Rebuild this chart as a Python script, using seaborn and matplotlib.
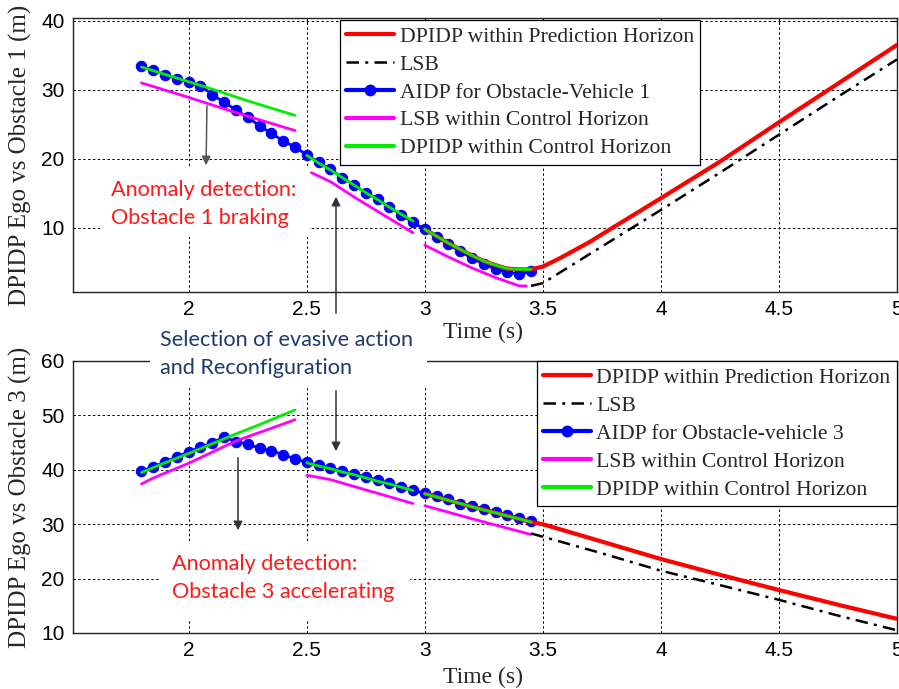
import numpy as np
import pandas as pd
import matplotlib
matplotlib.use("Agg")
import matplotlib.pyplot as plt
import seaborn as sns
from matplotlib.lines import Line2D
from matplotlib.patches import Rectangle, FancyArrowPatch

# ---------------- data ----------------
aidp_t = [round(1.8 + 0.05 * i, 2) for i in range(34)]

# Top panel: Ego vs Obstacle 1
top_aidp = [33.4, 32.8, 32.2, 31.6, 31.1, 30.6, 29.3, 28.2, 27.1, 26.0,
            24.8, 23.7, 22.6, 21.7, 20.6, 19.5, 18.5, 17.3, 16.2, 15.1,
            14.2, 13.0, 11.9, 10.8, 9.8, 8.7, 7.6, 6.6, 5.6, 4.8,
            4.0, 3.6, 3.3, 3.7]
top_green_t = [[1.8, 1.95, 2.1, 2.25, 2.45],
               [2.5, 2.55, 2.6, 2.65, 2.7, 2.75, 2.8, 2.85, 2.9, 2.95],
               [3.0, 3.05, 3.1, 3.15, 3.2, 3.25, 3.3, 3.35, 3.4, 3.45]]
top_green_v = [[33.3, 31.7, 30.1, 28.4, 26.3],
               [20.5, 19.4, 18.4, 17.3, 16.2, 15.1, 14.1, 13.0, 12.0, 11.0],
               [9.8, 8.8, 7.8, 6.9, 6.0, 5.2, 4.6, 4.1, 4.0, 4.0]]
top_mag_t = [[1.8, 2.0, 2.2, 2.45],
             [2.52, 2.6, 2.7, 2.8, 2.95],
             [3.0, 3.1, 3.2, 3.3, 3.4, 3.43]]
top_mag_v = [[31.0, 28.9, 26.7, 24.1],
             [18.0, 16.7, 14.5, 12.4, 9.3],
             [7.5, 5.8, 4.2, 2.8, 1.6, 1.6]]
top_red_t = [3.0, 3.05, 3.1, 3.15, 3.2, 3.25, 3.3, 3.35, 3.4, 3.45,
             3.5, 3.58, 3.7, 3.78, 4.0, 4.25, 4.5, 4.75, 5.0]
top_red_v = [9.8, 8.8, 7.8, 6.9, 6.0, 5.2, 4.6, 4.1, 4.0, 4.0,
             4.4, 5.75, 8.0, 9.7, 14.3, 19.6, 25.3, 30.9, 36.5]
top_lsb_t = [3.45, 3.5, 3.66, 4.0, 4.25, 4.5, 4.75, 5.0]
top_lsb_v = [1.6, 2.0, 5.4, 12.6, 18.0, 23.5, 29.0, 34.4]

# Bottom panel: Ego vs Obstacle 3
bot_aidp = [39.7, 40.6, 41.4, 42.4, 43.3, 44.1, 45.0, 46.0, 45.2, 44.7,
            44.0, 43.5, 42.8, 42.0, 41.4, 40.8, 40.3, 39.8, 39.2, 38.7,
            38.1, 37.5, 36.9, 36.2, 35.7, 35.2, 34.6, 33.8, 33.4, 32.8,
            32.2, 31.7, 31.2, 30.5]
bot_green_t = [[1.8, 1.9, 2.0, 2.1, 2.2, 2.3, 2.45],
               [2.5, 2.55, 2.6, 2.65, 2.7, 2.75, 2.8, 2.85, 2.9, 2.95],
               [3.0, 3.05, 3.1, 3.15, 3.2, 3.25, 3.3, 3.35, 3.4, 3.45]]
bot_green_v = [[39.5, 41.3, 43.0, 44.8, 46.6, 48.3, 51.0],
               [41.3, 40.7, 40.2, 39.6, 39.1, 38.5, 37.9, 37.4, 36.8, 36.2],
               [35.6, 35.0, 34.4, 33.8, 33.2, 32.6, 32.1, 31.5, 31.0, 30.4]]
bot_mag_t = [[1.8, 1.85, 2.0, 2.2, 2.45],
             [2.5, 2.6, 2.75, 2.95],
             [3.0, 3.2, 3.45]]
bot_mag_v = [[37.4, 38.5, 41.2, 45.3, 49.2],
             [39.0, 38.2, 36.3, 33.8],
             [33.4, 31.0, 28.1]]
bot_red_t = [3.0, 3.1, 3.2, 3.3, 3.45, 3.5, 3.75, 4.0, 4.25, 4.5, 4.75, 5.0]
bot_red_v = [35.6, 34.4, 33.2, 32.1, 30.4, 30.0, 26.8, 23.6, 20.7, 17.9, 15.2, 12.6]
bot_lsb_t = [3.45, 3.5, 3.75, 4.0, 4.25, 4.5, 4.75, 5.0]
bot_lsb_v = [28.3, 27.7, 24.65, 21.45, 18.8, 16.1, 13.2, 10.5]

x_ticks = [2, 2.5, 3, 3.5, 4, 4.5, 5]
top_yticks = [10, 20, 30, 40]
bot_yticks = [10, 20, 30, 40, 50, 60]

labels_top = ["DPIDP within Prediction Horizon", "LSB",
              "AIDP for Obstacle-Vehicle 1", "LSB within Control Horizon",
              "DPIDP within Control Horizon"]
labels_bot = ["DPIDP within Prediction Horizon", "LSB",
              "AIDP for Obstacle-vehicle 3", "LSB within Control Horizon",
              "DPIDP within Control Horizon"]

# ---------------- style ----------------
sns.set_style("white")
SERIF = ["Liberation Serif", "DejaVu Serif"]
SANS = ["Liberation Sans", "DejaVu Sans"]
NOTE = ["Lato", "DejaVu Sans"]
plt.rcParams["font.family"] = SANS

W, H = 899, 689
fig = plt.figure(figsize=(W / 100, H / 100), dpi=100)


def fx(x):
    return x / W


def fy(y):
    return 1 - y / H


ax_top = fig.add_axes([fx(73), fy(292), (897 - 73) / W, (292 - 18) / H])
ax_bot = fig.add_axes([fx(73), fy(633), (897 - 73) / W, (633 - 361) / H])

RED, BLUE, MAG, GREEN = "#ff0000", "#0000ff", "#ff00ff", "#00ee00"
LSB_DASH = (0, (5, 2.5, 1.2, 2.5))


def seg_frame(ts, vs):
    rows = []
    for k, (t, v) in enumerate(zip(ts, vs)):
        for a, b in zip(t, v):
            rows.append({"t": a, "v": b, "seg": k})
    return pd.DataFrame(rows)


def draw_panel(ax, aidp, green_t, green_v, mag_t, mag_v, red_t, red_v,
               lsb_t, lsb_v, ylim, yticks, ylabel, labels, leg_kw):
    sns.lineplot(x=aidp_t, y=aidp, ax=ax, color=BLUE, lw=2, marker="o",
                 markersize=7.5, markeredgecolor=BLUE, markerfacecolor=BLUE,
                 estimator=None, sort=False, zorder=2)
    sns.lineplot(data=seg_frame(mag_t, mag_v), x="t", y="v", units="seg",
                 estimator=None, sort=False, ax=ax, color=MAG, lw=2, zorder=3)
    sns.lineplot(x=lsb_t, y=lsb_v, ax=ax, color="black", lw=1.8,
                 linestyle=LSB_DASH, estimator=None, sort=False, zorder=3)
    sns.lineplot(x=red_t, y=red_v, ax=ax, color=RED, lw=3, estimator=None,
                 sort=False, zorder=4)
    sns.lineplot(data=seg_frame(green_t, green_v), x="t", y="v", units="seg",
                 estimator=None, sort=False, ax=ax, color=GREEN, lw=2, zorder=5)

    ax.set_xlim(1.51, 5.0)
    ax.set_ylim(*ylim)
    ax.set_xticks(x_ticks)
    ax.set_xticklabels(["%g" % v for v in x_ticks])
    ax.set_yticks(yticks)
    ax.set_yticklabels(["%g" % v for v in yticks])
    ax.grid(True, color="black", linestyle=(0, (2.5, 2.5)), lw=0.7)
    ax.set_axisbelow(True)
    for s in ax.spines.values():
        s.set_visible(True)
        s.set_color("#222222")
        s.set_linewidth(1.0)
    ax.tick_params(direction="in", length=4, width=0.8, top=True, right=True,
                   labelsize=15, pad=6, colors="black")
    for lab in ax.get_xticklabels() + ax.get_yticklabels():
        lab.set_family(SANS)
    ax.set_xlabel("Time (s)", fontsize=17, family=SERIF)
    ax.set_ylabel(ylabel, fontsize=18, family=SERIF)
    ax.yaxis.set_label_coords(-0.05, 0.5)

    handles = [Line2D([], [], color=RED, lw=3),
               Line2D([], [], color="black", lw=1.8, linestyle=LSB_DASH),
               Line2D([], [], color=BLUE, lw=3, marker="o", markersize=7.5),
               Line2D([], [], color=MAG, lw=3),
               Line2D([], [], color=GREEN, lw=3)]
    leg = ax.legend(handles, labels, prop={"family": SERIF, "size": 15.6},
                    frameon=True, fancybox=False, framealpha=1,
                    edgecolor="black", borderaxespad=0, handlelength=2.2,
                    handletextpad=0.25, labelspacing=0.36, borderpad=0.3,
                    **leg_kw)
    leg.get_frame().set_linewidth(0.9)
    leg.set_zorder(10)


draw_panel(ax_top, top_aidp, top_green_t, top_green_v, top_mag_t, top_mag_v,
           top_red_t, top_red_v, top_lsb_t, top_lsb_v, (0.72, 40.4),
           top_yticks, "DPIDP Ego vs Obstacle 1 (m)", labels_top,
           dict(loc="upper left", bbox_to_anchor=(0.324, 0.993)))
draw_panel(ax_bot, bot_aidp, bot_green_t, bot_green_v, bot_mag_t, bot_mag_v,
           bot_red_t, bot_red_v, bot_lsb_t, bot_lsb_v, (10, 60),
           bot_yticks, "DPIDP Ego vs Obstacle 3 (m)", labels_bot,
           dict(loc="upper right", bbox_to_anchor=(1.0, 1.0)))
ax_top.xaxis.set_label_coords(0.497, -0.11)
ax_bot.xaxis.set_label_coords(0.497, -0.125)


# ---------------- annotations (figure-level) ----------------
def white_box(x0, y0, x1, y1):
    fig.patches.append(Rectangle((fx(x0), fy(y1)), (x1 - x0) / W, (y1 - y0) / H,
                                 transform=fig.transFigure, facecolor="white",
                                 edgecolor="none", zorder=20))


def arrow(x0, y0, x1, y1, color="#333333"):
    fig.patches.append(FancyArrowPatch((fx(x0), fy(y0)), (fx(x1), fy(y1)),
                                       transform=fig.transFigure,
                                       arrowstyle="-|>", mutation_scale=13,
                                       color=color, lw=1.1, zorder=22))


white_box(100, 168, 309, 237)
white_box(150, 320, 427, 388)
white_box(160, 541, 410, 620)

NOTE_FS = 15.6
fig.text(fx(111), fy(204), "Anomaly detection:\nObstacle 1 braking",
         color="#ff1a1a", fontsize=NOTE_FS, family=NOTE, ha="left", va="center",
         linespacing=1.45, zorder=25)
fig.text(fx(160), fy(354), "Selection of evasive action\nand Reconfiguration",
         color="#1f3a6e", fontsize=NOTE_FS, family=NOTE, ha="left", va="center",
         linespacing=1.45, zorder=25)
fig.text(fx(172), fy(578), "Anomaly detection:\nObstacle 3 accelerating",
         color="#ff1a1a", fontsize=NOTE_FS, family=NOTE, ha="left", va="center",
         linespacing=1.45, zorder=25)

arrow(207, 103, 206, 168, color="#555555")
arrow(336, 316, 336, 194)
arrow(336, 388, 336, 454)
arrow(238, 455, 238, 533)

fig.savefig("out.png", dpi=100)
